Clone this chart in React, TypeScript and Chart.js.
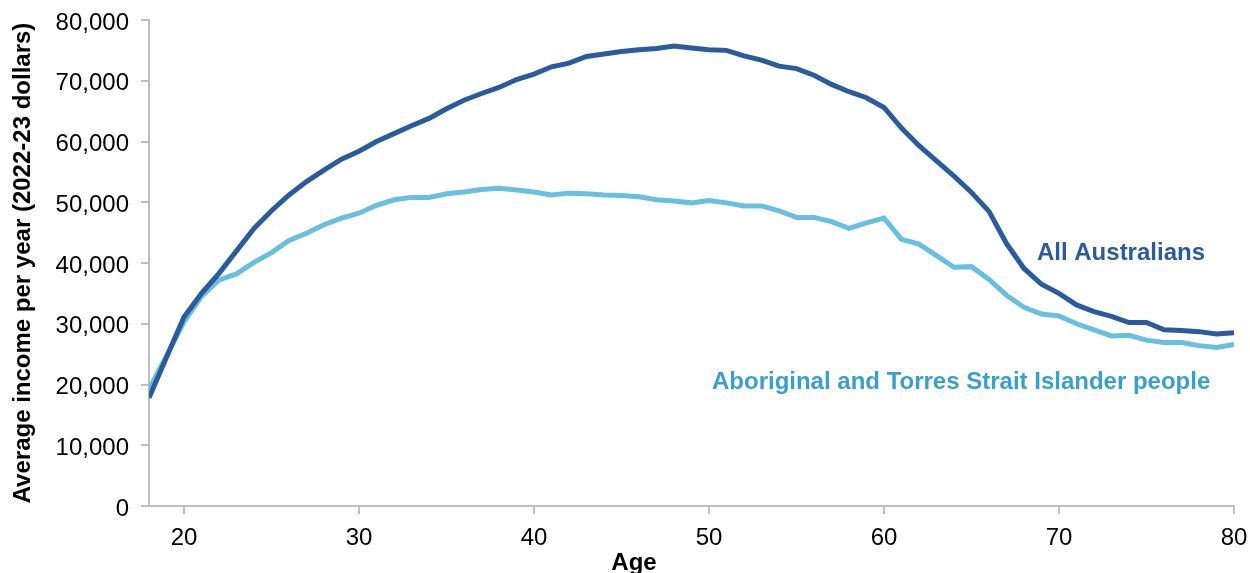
import React, { useEffect, useRef } from "react";
import { Chart, registerables } from "chart.js";

Chart.register(...registerables);

const ages: number[] = [
  18, 19, 20, 21, 22, 23, 24, 25, 26, 27, 28, 29, 30, 31, 32, 33, 34, 35, 36, 37, 38, 39, 40,
  41, 42, 43, 44, 45, 46, 47, 48, 49, 50, 51, 52, 53, 54, 55, 56, 57, 58, 59, 60, 61, 62, 63,
  64, 65, 66, 67, 68, 69, 70, 71, 72, 73, 74, 75, 76, 77, 78, 79, 80,
];

const allAustralians: number[] = [
  17800, 24500, 31100, 35000, 38300, 42000, 45700, 48600, 51200, 53400, 55300, 57100, 58400,
  60000, 61300, 62600, 63800, 65400, 66800, 67900, 68900, 70200, 71100, 72300, 72900, 74000,
  74400, 74800, 75100, 75300, 75700, 75400, 75100, 75000, 74100, 73400, 72400, 72000, 70900,
  69400, 68200, 67200, 65600, 62200, 59300, 56800, 54300, 51600, 48500, 43200, 39100, 36500,
  35000, 33100, 32000, 31200, 30200, 30200, 29000, 28900, 28700, 28300, 28500,
];

const indigenous: number[] = [
  19200, 24700, 30300, 34500, 37200, 38200, 40100, 41700, 43700, 44900, 46300, 47400, 48200,
  49500, 50400, 50800, 50800, 51400, 51700, 52100, 52300, 52000, 51700, 51200, 51500, 51400,
  51200, 51100, 50900, 50400, 50200, 49900, 50300, 49900, 49400, 49400, 48600, 47500, 47500,
  46800, 45700, 46600, 47400, 43900, 43100, 41200, 39300, 39400, 37300, 34700, 32700, 31600,
  31300, 30000, 29000, 28000, 28100, 27300, 26900, 26900, 26400, 26100, 26600,
];

const seriesNames: string[] = ["All Australians", "Aboriginal and Torres Strait Islander people"];
const xTicks: number[] = [20, 30, 40, 50, 60, 70, 80];
const yTicks: number[] = [0, 10000, 20000, 30000, 40000, 50000, 60000, 70000, 80000];
// annotation anchors in data units: [age, income]
const labelAnchors: number[][] = [
  [68.74, 41600],
  [50.17, 20400],
];

const DARK = "#2a5b9c";
const LIGHT = "#68bfe0";
const LIGHT_TEXT = "#38a0cc";
const AXIS = "#bfbfbf";
const FONT = "'Liberation Sans', Arial, sans-serif";
const FS = 24;

export default function App() {
  const ref = useRef<HTMLCanvasElement | null>(null);

  useEffect(() => {
    if (!ref.current) return;

    const annotations = {
      id: "annotations",
      afterDraw(chart: any) {
        const { ctx, scales } = chart;
        ctx.save();
        ctx.font = `bold ${FS}px ${FONT}`;
        ctx.textBaseline = "middle";
        ctx.textAlign = "left";
        const colors = [DARK, LIGHT_TEXT];
        seriesNames.forEach((name, i) => {
          const [a, v] = labelAnchors[i];
          ctx.fillStyle = colors[i];
          ctx.fillText(name, scales.x.getPixelForValue(a), scales.y.getPixelForValue(v));
        });
        // x-axis title
        ctx.fillStyle = "#000";
        ctx.textAlign = "center";
        ctx.fillText("Age", 634, 563);
        ctx.restore();
      },
    };

    const chart = new Chart(ref.current, {
      type: "line",
      data: {
        datasets: [
          {
            label: seriesNames[0],
            data: ages.map((a, i) => ({ x: a, y: allAustralians[i] })),
            borderColor: DARK,
            backgroundColor: DARK,
            borderWidth: 5,
            pointRadius: 0,
            tension: 0,
          },
          {
            label: seriesNames[1],
            data: ages.map((a, i) => ({ x: a, y: indigenous[i] })),
            borderColor: LIGHT,
            backgroundColor: LIGHT,
            borderWidth: 5,
            pointRadius: 0,
            tension: 0,
          },
        ],
      },
      options: {
        animation: false,
        responsive: true,
        maintainAspectRatio: false,
        layout: { padding: { left: 0, top: 20, right: 16, bottom: 0 } },
        plugins: {
          legend: { display: false },
          tooltip: { enabled: false },
        },
        scales: {
          x: {
            type: "linear",
            min: 18,
            max: 80,
            afterBuildTicks: (axis: any) => {
              axis.ticks = xTicks.map((v) => ({ value: v }));
            },
            afterFit: (axis: any) => {
              axis.height = 67;
              axis.paddingLeft = 0;
              axis.paddingRight = 0;
            },
            grid: {
              drawOnChartArea: false,
              drawTicks: true,
              tickLength: 8,
              color: AXIS,
              lineWidth: 2,
            },
            border: { display: true, color: AXIS, width: 2 },
            ticks: {
              color: "#000",
              padding: 10,
              maxRotation: 0,
              font: { family: FONT, size: FS },
            },
          },
          y: {
            type: "linear",
            min: 0,
            max: 80000,
            afterBuildTicks: (axis: any) => {
              axis.ticks = yTicks.map((v) => ({ value: v }));
            },
            afterFit: (axis: any) => {
              axis.width = 149;
              axis.paddingTop = 0;
              axis.paddingBottom = 0;
            },
            grid: {
              drawOnChartArea: false,
              drawTicks: true,
              tickLength: 8,
              color: AXIS,
              lineWidth: 2,
            },
            border: { display: true, color: AXIS, width: 2 },
            ticks: {
              color: "#000",
              padding: 12,
              labelOffset: 3,
              font: { family: FONT, size: FS },
              callback: (v: any) => Number(v).toLocaleString("en-US"),
            },
            title: {
              display: true,
              text: "Average income per year (2022-23 dollars)",
              color: "#000",
              padding: { top: 9, bottom: 0 },
              font: { family: FONT, size: FS, weight: "bold" },
            },
          },
        },
      },
      plugins: [annotations],
    });

    return () => chart.destroy();
  }, []);

  return (
    <div style={{ position: "absolute", left: 0, top: 0, width: 1250, height: 573, background: "#fff" }}>
      <canvas ref={ref} />
    </div>
  );
}
